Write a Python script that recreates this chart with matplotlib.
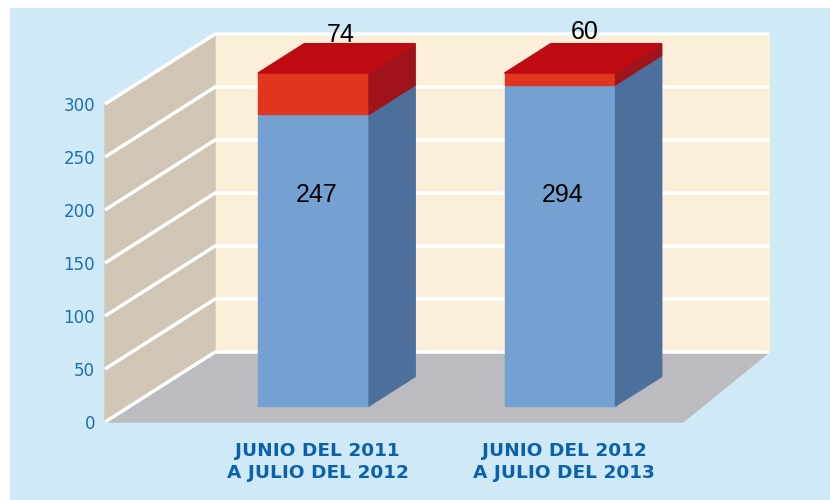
import matplotlib.pyplot as plt
from matplotlib.patches import Polygon, Rectangle

# datos
categorias = ["JUNIO DEL 2011\nA JULIO DEL 2012", "JUNIO DEL 2012\nA JULIO DEL 2013"]
etiqueta_azul = [247, 294]
etiqueta_roja = [74, 60]
# alturas dibujadas
altura_azul = [275, 303]
altura_roja = [39, 11]
ticks = [0, 50, 100, 150, 200, 250, 300]

# colores
fondo = "#CFE9F7"
pared_fondo = "#FBEFDA"
pared_izq = "#D1C5B5"
piso = "#BBBBC0"
azul_frente, azul_lado = "#74A1D2", "#4D6F9B"
rojo_frente, rojo_lado, rojo_tope = "#E2351E", "#A0131A", "#BE0B12"
texto_azul = "#1A6FB5"

# geometria: x en pixeles, y en unidades del eje
S = 1.06          # pixeles por unidad
DX, DY = 110, 66  # desplazamiento de profundidad (frente -> fondo)
x_izq, x_der, x_der_frente = 105, 769, 683

fig = plt.figure(figsize=(8.3, 5), dpi=100, facecolor="white")
ax = fig.add_axes([0, 0, 1, 1])
ax.set_xlim(0, 830)
ax.set_ylim(-(500 - 422) / S, 422 / S)
ax.axis("off")

ax.add_patch(Rectangle((10, -(500 - 422) / S), 820, 492 / S, color=fondo, zorder=0))

# paredes y piso
ax.add_patch(Rectangle((x_izq + DX, DY), x_der - x_izq - DX, 300, color=pared_fondo, zorder=1))
ax.add_patch(Polygon([(x_izq, 0), (x_izq + DX, DY), (x_izq + DX, DY + 300), (x_izq, 300)],
                     color=pared_izq, zorder=1))
ax.add_patch(Polygon([(x_izq, 0), (x_izq + DX, DY), (x_der, DY), (x_der_frente, 0)],
                     color=piso, zorder=1))

for t in ticks:
    ax.plot([x_izq, x_izq + DX, x_der], [t, t + DY, t + DY], color="white", lw=2.5,
            solid_capstyle="butt", zorder=2)
    ax.text(x_izq - 10, t - 2, str(t), ha="right", va="center", fontsize=12, color=texto_azul)

# barras
posiciones = [313.5, 560]
ancho = 111
d0, dd = 0.23, 0.42
for i in range(len(categorias)):
    x0 = posiciones[i] - ancho / 2
    base = d0 * DY
    sx, sy = dd * DX, dd * DY
    seg = [(base, altura_azul[i], azul_frente, azul_lado),
           (base + altura_azul[i], altura_roja[i], rojo_frente, rojo_lado)]
    for y0, h, cf, cl in seg:
        ax.add_patch(Rectangle((x0, y0), ancho, h, color=cf, zorder=3))
        ax.add_patch(Polygon([(x0 + ancho, y0), (x0 + ancho, y0 + h),
                              (x0 + ancho + sx, y0 + h + sy), (x0 + ancho + sx, y0 + sy)],
                             color=cl, zorder=3))
    tope = base + altura_azul[i] + altura_roja[i]
    ax.add_patch(Polygon([(x0, tope), (x0 + ancho, tope), (x0 + ancho + sx, tope + sy),
                          (x0 + sx, tope + sy)], color=rojo_tope, zorder=3))

    ax.text(posiciones[i] + 3, 214, str(etiqueta_azul[i]),
            ha="center", va="center", fontsize=18, family="Liberation Sans", zorder=4)
    ax.text(posiciones[i] + sx / 2 + 4 - 2 * i, tope + sy + 8 + 3 * i, str(etiqueta_roja[i]),
            ha="center", va="center", fontsize=18, family="Liberation Sans", zorder=4)
    ax.text(posiciones[i] + 4, -(462 - 422) / S, categorias[i], ha="center", va="center",
            fontsize=13.3, fontweight="bold", color="#0B62AC", linespacing=1.3)

fig.savefig("out.png", dpi=100, facecolor="white")
